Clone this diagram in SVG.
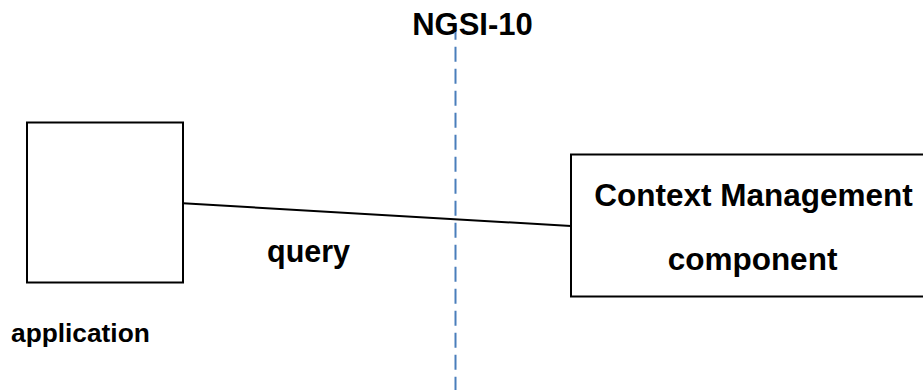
<svg xmlns="http://www.w3.org/2000/svg" width="923" height="390" viewBox="0 0 923 390">
<style>
.box{fill:#fff;stroke:#000;stroke-width:2}
.lbl{font-family:"Liberation Sans",Arial,sans-serif;font-weight:bold;fill:#000}
.conn{stroke:#000;stroke-width:2;fill:none}
.div{stroke:#4a7ebb;stroke-width:2;stroke-dasharray:15 7;fill:none}
</style>
<rect width="923" height="390" fill="#fff"/>
<g id="boundary">
<text class="lbl" x="472.5" y="35" font-size="31" text-anchor="middle">NGSI-10</text>
<line class="div" x1="455.5" y1="32" x2="455.5" y2="390" stroke-dashoffset="7.3"/>
</g>
<g id="connectors">
<line class="conn" x1="183" y1="203.3" x2="571" y2="226"/>
<text class="lbl" x="267" y="262" font-size="30.5">query</text>
</g>
<g id="application">
<rect class="box" x="27" y="122.5" width="156" height="160"/>
<text class="lbl" x="11" y="342" font-size="26.3">application</text>
</g>
<g id="context-management">
<rect class="box" x="571" y="154.5" width="370" height="142"/>
<text class="lbl" x="753.5" y="206" font-size="31.5" text-anchor="middle">Context Management</text>
<text class="lbl" x="752.5" y="270" font-size="31.5" text-anchor="middle">component</text>
</g>
</svg>
